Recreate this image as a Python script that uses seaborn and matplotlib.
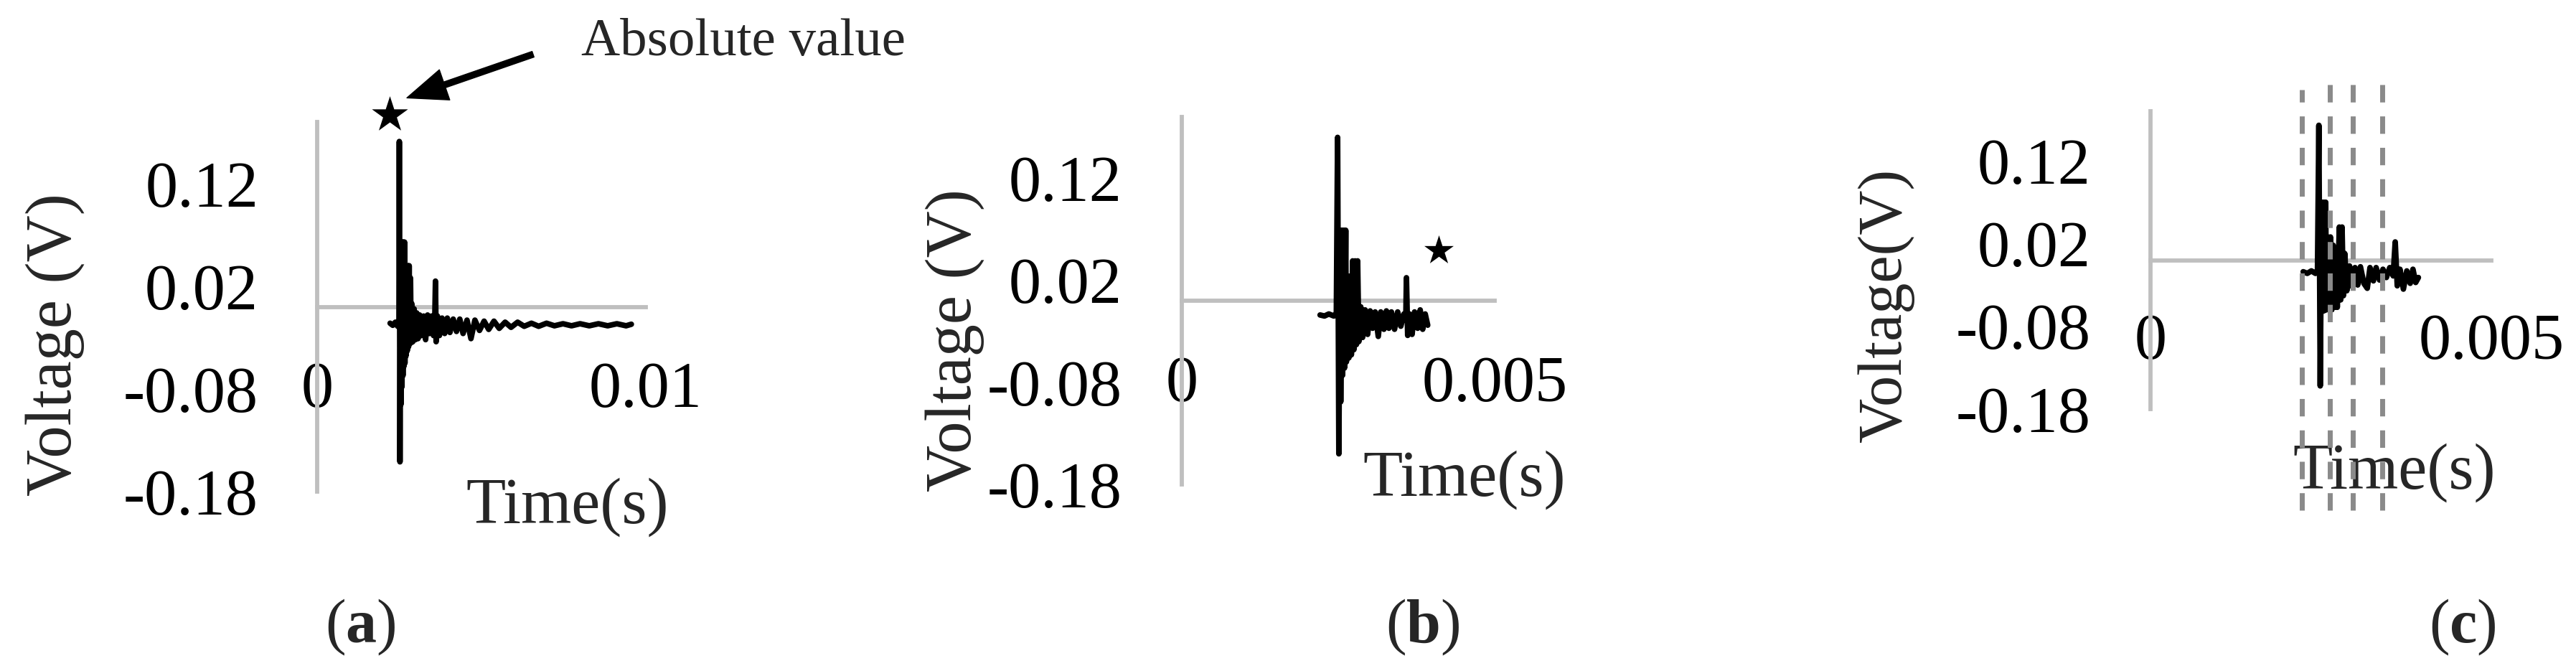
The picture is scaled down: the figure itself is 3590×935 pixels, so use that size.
import numpy as np
import pandas as pd
import matplotlib
matplotlib.use("Agg")
import matplotlib.pyplot as plt
import seaborn as sns

# ---------------- data (time in ms, voltage in V) ----------------
t_a_ms = [2.22, 2.30, 2.38, 2.45, 2.49, 2.50, 2.52, 2.54, 2.55, 2.57, 2.58, 2.60, 2.61,
          2.63, 2.64, 2.66, 2.67, 2.69, 2.70, 2.72, 2.74, 2.76, 2.78, 2.80, 2.82, 2.84,
          2.86, 2.88, 2.91, 2.95, 2.99, 3.03, 3.07, 3.12, 3.18, 3.24, 3.30, 3.36, 3.42,
          3.48, 3.54, 3.58, 3.60, 3.62, 3.66, 3.72, 3.80, 3.88, 3.96, 4.04, 4.14, 4.24,
          4.34, 4.44, 4.56, 4.68, 4.80, 4.94, 5.08, 5.22, 5.38, 5.54, 5.72, 5.90, 6.10,
          6.30, 6.52, 6.74, 6.98, 7.22, 7.48, 7.74, 8.00, 8.28, 8.56, 8.84, 9.12, 9.40, 9.56]
v_a = [-0.016, -0.018, -0.015, -0.019, -0.012, 0.161, -0.151, 0.063, -0.095, 0.063, -0.078,
       0.063, -0.067, 0.063, -0.058, 0.063, -0.055, 0.040, -0.048, 0.040, -0.043, 0.040,
       -0.039, 0.040, -0.036, 0.028, -0.035, 0.003, -0.034, -0.002, -0.032, -0.006, -0.031,
       -0.008, -0.028, -0.009, -0.032, -0.008, -0.026, -0.009, -0.028, -0.011, 0.025, -0.034,
       -0.009, -0.028, -0.011, -0.026, -0.011, -0.025, -0.012, -0.024, -0.012, -0.026, -0.013,
       -0.031, -0.013, -0.023, -0.014, -0.022, -0.014, -0.021, -0.015, -0.020, -0.015, -0.019,
       -0.016, -0.019, -0.016, -0.0185, -0.0165, -0.0185, -0.0165, -0.0185, -0.0165, -0.0185,
       -0.0165, -0.0185, -0.017]

t_b_ms = [2.21, 2.28, 2.35, 2.43, 2.47, 2.49, 2.51, 2.53, 2.54, 2.56, 2.57, 2.59, 2.60, 2.62,
          2.63, 2.65, 2.67, 2.69, 2.71, 2.73, 2.75, 2.77, 2.79, 2.81, 2.83, 2.86, 2.89, 2.93,
          2.97, 3.01, 3.05, 3.09, 3.14, 3.18, 3.23, 3.27, 3.31, 3.35, 3.40, 3.45, 3.50, 3.55,
          3.58, 3.59, 3.61, 3.64, 3.68, 3.72, 3.77, 3.81, 3.85, 3.89, 3.93]
v_b = [-0.014, -0.015, -0.013, -0.015, -0.012, 0.160, -0.150, 0.069, -0.099, 0.069, -0.073,
       0.069, -0.066, 0.069, -0.060, 0.024, -0.056, 0.024, -0.053, 0.039, -0.048, 0.039,
       -0.043, 0.039, -0.040, -0.006, -0.036, -0.009, -0.033, -0.010, -0.027, -0.011, -0.035,
       -0.011, -0.028, -0.010, -0.027, -0.011, -0.028, -0.011, -0.025, -0.013, -0.019, 0.0225,
       -0.034, -0.013, -0.033, -0.011, -0.027, -0.009, -0.028, -0.013, -0.024]

t_c_ms = [2.24, 2.30, 2.36, 2.42, 2.45, 2.47, 2.49, 2.51, 2.52, 2.54, 2.55, 2.57, 2.58, 2.60,
          2.62, 2.64, 2.66, 2.68, 2.70, 2.72, 2.74, 2.77, 2.79, 2.81, 2.83, 2.85, 2.88, 2.92,
          2.96, 3.00, 3.04, 3.08, 3.13, 3.18, 3.22, 3.27, 3.31, 3.36, 3.41, 3.46, 3.51, 3.56,
          3.59, 3.62, 3.66, 3.71, 3.76, 3.81, 3.85, 3.89, 3.93]
v_c = [-0.014, -0.016, -0.013, -0.016, -0.012, 0.163, -0.152, 0.070, -0.062, 0.070, -0.061,
       0.070, -0.060, 0.028, -0.060, 0.028, -0.060, 0.018, -0.057, 0.013, -0.057, 0.040,
       -0.048, 0.040, -0.043, 0.008, -0.037, -0.007, -0.032, -0.009, -0.030, -0.008, -0.028,
       -0.034, -0.009, -0.025, -0.009, -0.024, -0.011, -0.021, -0.009, -0.019, 0.022, -0.031,
       -0.011, -0.035, -0.013, -0.028, -0.011, -0.027, -0.021]

# marked points (stars)
star_a_t = [0.00220]
star_a_v = [0.187]
star_b_t = [0.00410]
star_b_v = [0.049]

# segment boundaries in panel (c), ms
dash_c_ms = [2.22, 2.63, 2.97, 3.40]

y_ticks = [-0.18, -0.08, 0.02, 0.12]
y_tick_labels = ["-0.18", "-0.08", "0.02", "0.12"]
x_ticks_a = [0, 0.01]
x_tick_labels_a = ["0", "0.01"]
x_ticks_bc = [0, 0.005]
x_tick_labels_bc = ["0", "0.005"]

# ---------------- style ----------------
sns.set_theme(style="white")
plt.rcParams["font.family"] = ["Liberation Serif", "DejaVu Serif"]
plt.rcParams["mathtext.fontset"] = "custom"
plt.rcParams["mathtext.rm"] = "Liberation Serif"
plt.rcParams["mathtext.bf"] = "Liberation Serif:bold"
plt.rcParams["axes.unicode_minus"] = False

W, H = 3590, 935
fig = plt.figure(figsize=(W / 100, H / 100), dpi=100)

def fig_rect(x0, x1, ytop, ybot):
    return [x0 / W, 1 - ybot / H, (x1 - x0) / W, (ybot - ytop) / H]

ax_a = fig.add_axes(fig_rect(442, 900, 170, 685))
ax_b = fig.add_axes(fig_rect(1647, 2083, 163, 675))
ax_c = fig.add_axes(fig_rect(2997, 3472, 155, 570))

FS = 65
GRAY = "#bfbfbf"

def style_axis(ax, xmax, xticks, xlabels, ypad, xpad):
    ax.set_xlim(0, xmax)
    ax.set_ylim(-0.18, 0.18)
    for s in ["top", "right"]:
        ax.spines[s].set_visible(False)
    ax.spines["left"].set_position(("data", 0))
    ax.spines["bottom"].set_position(("data", 0))
    for s in ["left", "bottom"]:
        ax.spines[s].set_color(GRAY)
        ax.spines[s].set_linewidth(4.2)
        ax.spines[s].set_zorder(1)
    ax.set_yticks(y_ticks)
    ax.set_yticklabels(y_tick_labels, fontsize=FS)
    ax.set_xticks(xticks)
    ax.set_xticklabels(xlabels, fontsize=FS)
    ax.tick_params(axis="y", length=0, pad=ypad, colors="black")
    ax.tick_params(axis="x", length=0, pad=xpad, colors="black")
    ax.grid(False)
    ax.set_facecolor("none")

def draw_signal(ax, t_ms, v):
    df = pd.DataFrame({"t": np.array(t_ms) / 1000.0, "v": v})
    sns.lineplot(data=df, x="t", y="v", ax=ax, color="black", linewidth=5.6,
                 estimator=None, sort=False, zorder=3)

draw_signal(ax_a, t_a_ms, v_a)
draw_signal(ax_b, t_b_ms, v_b)
draw_signal(ax_c, t_c_ms, v_c)

style_axis(ax_a, 0.01, x_ticks_a, x_tick_labels_a, 59, 55)
style_axis(ax_b, 0.005, x_ticks_bc, x_tick_labels_bc, 60, 55)
style_axis(ax_c, 0.005, x_ticks_bc, x_tick_labels_bc, 60, 53)

# stars
sns.scatterplot(x=star_a_t, y=star_a_v, ax=ax_a, marker="*", s=38 ** 2, color="black",
                edgecolor="black", linewidth=0, clip_on=False, legend=False, zorder=5)
sns.scatterplot(x=star_b_t, y=star_b_v, ax=ax_b, marker="*", s=31 ** 2, color="black",
                edgecolor="black", linewidth=0, clip_on=False, legend=False, zorder=5)

# dashed segment boundaries in (c)
for i, d in enumerate(dash_c_ms):
    top = 0.206 if i == 0 else 0.216
    ax_c.vlines(d / 1000.0, -0.302, top, colors="#8a8a8a", linewidth=5,
                linestyles=[(0, (3.5, 2.8))], clip_on=False, zorder=4)

# axis labels
ax_a.set_ylabel("Voltage (V)", fontsize=FS)
ax_a.yaxis.set_label_coords((118 - 442) / 458, (685 - 480) / 515)
ax_b.set_ylabel("Voltage (V)", fontsize=FS)
ax_b.yaxis.set_label_coords((1372 - 1647) / 436, (675 - 474) / 512)
ax_c.set_ylabel("Voltage(V)", fontsize=62)
ax_c.yaxis.set_label_coords((2668 - 2997) / 475, (570 - 425) / 415)

ax_a.set_xlabel("Time(s)", fontsize=FS)
ax_a.xaxis.set_label_coords((791 - 442) / 458, (685 - 665) / 515)
ax_b.set_xlabel("Time(s)", fontsize=FS)
ax_b.xaxis.set_label_coords((2041 - 1647) / 436, (675 - 627) / 512)
ax_c.set_xlabel("Time(s)", fontsize=FS)
ax_c.xaxis.set_label_coords((3337 - 2997) / 475, (570 - 617) / 415)

# annotation arrow + text in (a)
ax_a.annotate("", xy=(0.00273, 0.2035), xytext=(0.00657, 0.246), xycoords="data",
              textcoords="data", annotation_clip=False,
              arrowprops=dict(facecolor="black", edgecolor="black", width=6,
                              headwidth=32, headlength=40, shrink=0))
fig.text(810 / W, 1 - 77 / H, "Absolute value", fontsize=54, ha="left", va="baseline")

# panel labels
for lab, xc in [("a", 502), ("b", 1983), ("c", 3432)]:
    fig.text(xc / W, 1 - 874 / H, r"($\mathbf{%s}$)" % lab, fontsize=62,
             ha="center", va="center")

fig.savefig("out.png", dpi=100, facecolor="white")
